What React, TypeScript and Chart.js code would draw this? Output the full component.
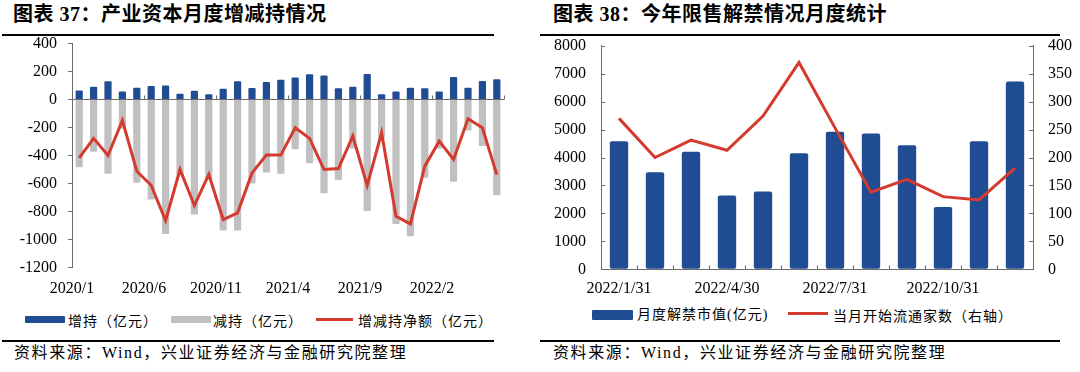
import React, { useEffect, useRef } from "react";
import { Chart, registerables } from "chart.js";
Chart.register(...registerables);

// ---------- Chart 37 data ----------
const months1 = [
  "2020/1", "2020/2", "2020/3", "2020/4", "2020/5", "2020/6", "2020/7", "2020/8", "2020/9", "2020/10", "2020/11", "2020/12",
  "2021/1", "2021/2", "2021/3", "2021/4", "2021/5", "2021/6", "2021/7", "2021/8", "2021/9", "2021/10", "2021/11", "2021/12",
  "2022/1", "2022/2", "2022/3", "2022/4", "2022/5", "2022/6",
];
const increase = [64, 90, 129, 57, 83, 95, 100, 40, 62, 36, 76, 129, 81, 124, 140, 157, 179, 171, 79, 90, 181, 36, 57, 83, 79, 57, 160, 83, 131, 143];
const decrease = [-483, -374, -531, -207, -595, -714, -959, -540, -821, -571, -935, -935, -600, -521, -531, -355, -455, -669, -574, -350, -795, -274, -888, -976, -559, -350, -588, -221, -333, -683];
const netChange = [-417, -278, -400, -150, -512, -612, -864, -500, -757, -535, -857, -809, -524, -397, -397, -202, -278, -500, -493, -262, -614, -238, -833, -888, -476, -298, -428, -138, -202, -536];
const yTicks1 = { min: -1200, max: 400, step: 200 };

// ---------- Chart 38 data ----------
const months2 = ["2022/1/31", "2022/2/28", "2022/3/31", "2022/4/30", "2022/5/31", "2022/6/30", "2022/7/31", "2022/8/31", "2022/9/30", "2022/10/31", "2022/11/30", "2022/12/31"];
const unlockValue = [4580, 3470, 4210, 2640, 2780, 4150, 4920, 4860, 4440, 2230, 4580, 6720];
const unlockCount = [270, 200, 231, 213, 274, 370, 253, 138, 161, 130, 124, 181];
const yLeft2 = { min: 0, max: 8000, step: 1000 };
const yRight2 = { min: 0, max: 400, step: 50 };

const BLUE = "#1F4C93";
const GREY = "#C0C0C0";
const RED = "#D43A2E";
const AXIS = "#6b6b6b";
const SERIF = '"Liberation Serif", "Times New Roman", serif';
const MIXED = '"Liberation Serif", "Noto Sans CJK SC", serif';
const CJK = '"Noto Sans CJK SC", sans-serif';

const plain = (v: any) => String(v);
const fitY = (width: number) => (s: any) => {
  s.width = width;
  s.paddingTop = 0;
  s.paddingBottom = 0;
};

const zeroLinePlugin = {
  id: "zeroLine",
  afterDatasetsDraw(chart: any) {
    const { ctx, chartArea, scales } = chart;
    const y0 = Math.round(scales.y.getPixelForValue(0)) + 0.5;
    const n = chart.data.labels.length;
    const w = (chartArea.right - chartArea.left) / n;
    ctx.save();
    ctx.strokeStyle = AXIS;
    ctx.lineWidth = 1;
    ctx.beginPath();
    ctx.moveTo(chartArea.left, y0);
    ctx.lineTo(chartArea.right, y0);
    ctx.stroke();
    for (let b = 5; b <= n; b += 5) {
      const x = Math.round(chartArea.left + b * w) + 0.5;
      ctx.beginPath();
      ctx.moveTo(x, y0);
      ctx.lineTo(x, y0 - 4);
      ctx.stroke();
    }
    ctx.restore();
  },
};

const innerTicksPlugin = {
  id: "innerTicks",
  afterDatasetsDraw(chart: any) {
    const { ctx, chartArea, scales } = chart;
    ctx.save();
    ctx.strokeStyle = AXIS;
    ctx.lineWidth = 1;
    const n = chart.data.labels.length;
    const w = (chartArea.right - chartArea.left) / n;
    const bottom = Math.round(chartArea.bottom) + 0.5;
    for (let b = 1; b < n; b++) {
      const x = Math.round(chartArea.left + b * w) + 0.5;
      ctx.beginPath();
      ctx.moveTo(x, bottom);
      ctx.lineTo(x, bottom - 4);
      ctx.stroke();
    }
    scales.y.ticks.forEach((t: any) => {
      const y = Math.round(scales.y.getPixelForValue(t.value)) + 0.5;
      ctx.beginPath();
      ctx.moveTo(chartArea.left, y);
      ctx.lineTo(chartArea.left + 4, y);
      ctx.stroke();
    });
    scales.y1.ticks.forEach((t: any) => {
      const y = Math.round(scales.y1.getPixelForValue(t.value)) + 0.5;
      ctx.beginPath();
      ctx.moveTo(chartArea.right, y);
      ctx.lineTo(chartArea.right - 4, y);
      ctx.stroke();
    });
    ctx.restore();
  },
};

function Chart37() {
  const ref = useRef<HTMLCanvasElement>(null);
  useEffect(() => {
    const chart = new Chart(ref.current!, {
      type: "bar",
      data: {
        labels: months1,
        datasets: [
          {
            type: "line",
            label: "增减持净额（亿元）",
            data: netChange,
            borderColor: RED,
            borderWidth: 3,
            pointRadius: 0,
            tension: 0,
            order: 0,
          } as any,
          {
            label: "增持（亿元）",
            data: increase,
            backgroundColor: BLUE,
            grouped: false,
            barPercentage: 0.5,
            categoryPercentage: 1,
            borderRadius: 1,
            order: 1,
          },
          {
            label: "减持（亿元）",
            data: decrease,
            backgroundColor: GREY,
            grouped: false,
            barPercentage: 0.5,
            categoryPercentage: 1,
            borderRadius: 1,
            order: 1,
          },
        ],
      },
      options: {
        animation: false,
        responsive: false,
        layout: { padding: { top: 13.3, right: 16, left: 0, bottom: 0 } },
        plugins: { legend: { display: false }, tooltip: { enabled: false } },
        scales: {
          x: {
            type: "category",
            offset: true,
            grid: { display: false, drawTicks: false },
            border: { display: false },
            ticks: {
              autoSkip: false,
              maxRotation: 0,
              minRotation: 0,
              padding: 11,
              labelOffset: -7.2,
              color: "#000",
              font: { family: SERIF, size: 16 },
              callback: (_v: any, i: number) => (i % 5 === 0 ? months1[i] : ""),
            },
            afterFit: (s: any) => { s.height = 37.3; s.paddingLeft = 0; s.paddingRight = 0; },
          },
          y: {
            min: yTicks1.min,
            max: yTicks1.max,
            ticks: { stepSize: yTicks1.step, padding: 11, color: "#000", font: { family: SERIF, size: 16 }, callback: plain },
            grid: { drawOnChartArea: false, drawTicks: true, tickLength: 4, tickColor: AXIS, color: AXIS },
            border: { display: true, color: AXIS, width: 1 },
            afterFit: fitY(72),
          },
        },
      },
      plugins: [zeroLinePlugin],
    });
    return () => chart.destroy();
  }, []);
  return <canvas ref={ref} width={520} height={275} style={{ position: "absolute", left: 0, top: 30, width: 520, height: 275 }} />;
}

function Chart38() {
  const ref = useRef<HTMLCanvasElement>(null);
  useEffect(() => {
    const chart = new Chart(ref.current!, {
      type: "bar",
      data: {
        labels: months2,
        datasets: [
          {
            type: "line",
            label: "当月开始流通家数（右轴）",
            data: unlockCount,
            yAxisID: "y1",
            borderColor: RED,
            borderWidth: 3,
            pointRadius: 0,
            tension: 0,
            order: 0,
          } as any,
          {
            label: "月度解禁市值(亿元)",
            data: unlockValue,
            yAxisID: "y",
            backgroundColor: BLUE,
            barPercentage: 0.51,
            categoryPercentage: 1,
            borderRadius: 2,
            borderSkipped: false,
            order: 1,
          },
        ],
      },
      options: {
        animation: false,
        responsive: false,
        layout: { padding: { top: 15.7, right: 0, left: 0, bottom: 0 } },
        plugins: { legend: { display: false }, tooltip: { enabled: false } },
        scales: {
          x: {
            type: "category",
            offset: true,
            grid: { display: false, drawTicks: false },
            border: { display: true, color: AXIS, width: 1 },
            ticks: {
              autoSkip: false,
              maxRotation: 0,
              minRotation: 0,
              padding: 10,
              color: "#000",
              font: { family: SERIF, size: 16 },
              callback: (_v: any, i: number) => (i % 3 === 0 ? months2[i] : ""),
            },
            afterFit: (s: any) => { s.height = 35.7; s.paddingLeft = 0; s.paddingRight = 0; },
          },
          y: {
            position: "left",
            min: yLeft2.min,
            max: yLeft2.max,
            ticks: { stepSize: yLeft2.step, padding: 15, color: "#000", font: { family: SERIF, size: 16 }, callback: plain },
            grid: { drawOnChartArea: false, drawTicks: false },
            border: { display: true, color: AXIS, width: 1 },
            afterFit: fitY(61),
          },
          y1: {
            position: "right",
            min: yRight2.min,
            max: yRight2.max,
            ticks: { stepSize: yRight2.step, padding: 15, color: "#000", font: { family: SERIF, size: 16 }, callback: plain },
            grid: { drawOnChartArea: false, drawTicks: false },
            border: { display: true, color: AXIS, width: 1 },
            afterFit: fitY(47),
          },
        },
      },
      plugins: [innerTicksPlugin],
    });
    return () => chart.destroy();
  }, []);
  return <canvas ref={ref} width={540} height={275} style={{ position: "absolute", left: 540, top: 30, width: 540, height: 275 }} />;
}

const abs = (s: React.CSSProperties): React.CSSProperties => ({ position: "absolute", ...s });

function LegendBox({ x, y, w, h, color }: { x: number; y: number; w: number; h: number; color: string }) {
  return <div style={abs({ left: x, top: y, width: w, height: h, background: color, borderRadius: 1 })} />;
}

function LegendText({ x, cy, text, family }: { x: number; cy: number; text: string; family: string }) {
  return (
    <div style={abs({ left: x, top: cy - 10, height: 20, lineHeight: "20px", fontSize: 14, letterSpacing: 1, fontFamily: family, color: "#000", whiteSpace: "nowrap" })}>
      {text}
    </div>
  );
}

export default function App() {
  const titleStyle: React.CSSProperties = { fontSize: 20, fontWeight: "bold", fontFamily: MIXED, letterSpacing: 0.5, lineHeight: "24px", whiteSpace: "nowrap", color: "#000" };
  const sourceStyle: React.CSSProperties = { fontSize: 16, fontFamily: MIXED, letterSpacing: 1.6, lineHeight: "20px", whiteSpace: "nowrap", color: "#000" };
  return (
    <div style={{ position: "fixed", left: 0, top: 0, width: 1080, height: 372, background: "#fff", overflow: "hidden" }}>
      <div style={abs({ left: 13, top: 2, ...titleStyle })}>图表 37：产业资本月度增减持情况</div>
      <div style={abs({ left: 553, top: 2, ...titleStyle })}>图表 38：今年限售解禁情况月度统计</div>
      <div style={abs({ left: 2, top: 34, width: 492, height: 2, background: "#000" })} />
      <div style={abs({ left: 540, top: 34, width: 520, height: 2, background: "#000" })} />

      <Chart37 />
      <Chart38 />

      {/* Legend chart 37 */}
      <LegendBox x={25} y={316} w={40} h={7} color={BLUE} />
      <LegendText x={68} cy={320} text="增持（亿元）" family={CJK} />
      <LegendBox x={171} y={316} w={40} h={7} color={GREY} />
      <LegendText x={213} cy={320} text="减持（亿元）" family={CJK} />
      <div style={abs({ left: 316, top: 318, width: 37, height: 3, background: RED })} />
      <LegendText x={358} cy={320} text="增减持净额（亿元）" family={CJK} />

      {/* Legend chart 38 */}
      <LegendBox x={592} y={310} w={41} h={10} color={BLUE} />
      <LegendText x={637} cy={315} text="月度解禁市值(亿元)" family={MIXED} />
      <div style={abs({ left: 788, top: 312, width: 40, height: 3, background: RED })} />
      <LegendText x={833} cy={315} text="当月开始流通家数（右轴）" family={CJK} />

      <div style={abs({ left: 2, top: 340, width: 492, height: 2, background: "#000" })} />
      <div style={abs({ left: 540, top: 340, width: 520, height: 2, background: "#000" })} />
      <div style={abs({ left: 14, top: 343, ...sourceStyle })}>资料来源：Wind，兴业证券经济与金融研究院整理</div>
      <div style={abs({ left: 553, top: 343, ...sourceStyle })}>资料来源：Wind，兴业证券经济与金融研究院整理</div>
    </div>
  );
}
